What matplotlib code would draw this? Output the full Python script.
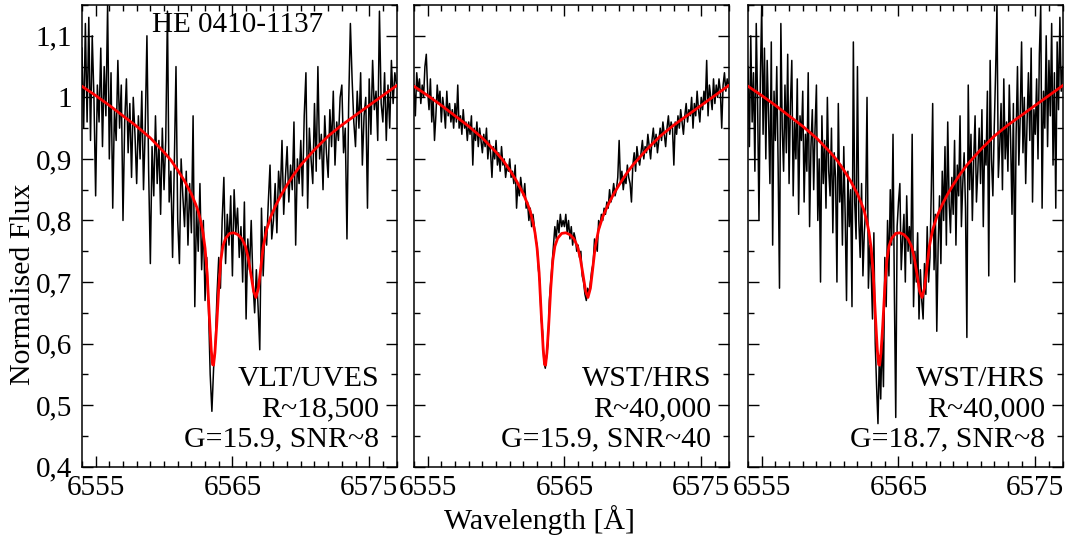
import numpy as np
import matplotlib
matplotlib.use("Agg")
import matplotlib.pyplot as plt
from matplotlib.ticker import FixedLocator, MultipleLocator, FuncFormatter

plt.rcParams['font.family'] = ['Liberation Serif', 'DejaVu Serif']
plt.rcParams['font.size'] = 21

# --- model profile (H-alpha, two components) ---
model_wl = [6554.0, 6555.0, 6556.0, 6557.0, 6558.0, 6559.0, 6560.0, 6560.5,
            6561.0, 6561.5, 6562.0, 6562.3, 6562.5, 6562.7, 6562.85, 6563.0,
            6563.15, 6563.3, 6563.45, 6563.55, 6563.62, 6563.72, 6563.85, 6564.0,
            6564.15, 6564.3, 6564.5, 6564.8, 6565.1, 6565.4, 6565.7, 6565.95,
            6566.15, 6566.35, 6566.55, 6566.72, 6566.9, 6567.05, 6567.25, 6567.5,
            6567.8, 6568.2, 6568.6, 6569.0, 6569.5, 6570.0, 6571.0, 6572.0,
            6573.0, 6574.0, 6575.0, 6576.0, 6577.0]
model_flux = [1.018, 1.003, 0.987, 0.970, 0.953, 0.934, 0.911, 0.898,
              0.882, 0.864, 0.843, 0.827, 0.815, 0.797, 0.780, 0.755,
              0.715, 0.650, 0.590, 0.566, 0.565, 0.585, 0.630, 0.690,
              0.735, 0.758, 0.771, 0.779, 0.780, 0.777, 0.770, 0.758,
              0.740, 0.713, 0.685, 0.675, 0.690, 0.718, 0.757, 0.785,
              0.806, 0.826, 0.843, 0.858, 0.875, 0.890, 0.915, 0.937,
              0.955, 0.971, 0.987, 1.003, 1.019]

# --- VLT/UVES spectrum, 0.125 A sampling from 6554 A ---
uves_flux = [
    1.08, 0.95, 1.12, 0.96, 1.13, 0.93, 1.10, 1.00,
    0.84, 1.02, 0.96, 1.08, 0.92, 1.05, 0.97, 1.15,
    0.90, 1.04, 0.82, 0.98, 0.93, 1.06, 0.95, 1.02,
    0.80, 0.96, 1.03, 0.91, 0.99, 0.87, 1.00, 0.94,
    0.86, 0.97, 0.90, 1.01, 0.85, 0.95, 1.10, 0.88,
    0.73, 0.92, 0.84, 0.97, 0.86, 0.93, 0.81, 0.95,
    0.85, 0.93, 1.14, 0.83, 0.88, 0.74, 0.89, 1.05,
    0.80, 0.73, 0.90, 0.84, 0.79, 0.88, 0.76, 0.86,
    0.78, 0.97, 0.66, 0.82, 0.75, 0.86, 0.72, 0.80,
    0.67, 0.74, 0.66, 0.55, 0.49, 0.56, 0.60, 0.68,
    0.74, 0.69, 0.80, 0.87, 0.73, 0.81, 0.76, 0.84,
    0.71, 0.85, 0.78, 0.82, 0.74, 0.79, 0.70, 0.83,
    0.64, 0.77, 0.72, 0.80, 0.70, 0.65, 0.72, 0.66,
    0.59, 0.82, 0.71, 0.79, 0.76, 0.83, 0.89, 0.77,
    0.80, 0.86, 0.78, 0.88, 0.84, 0.93, 0.81, 0.87,
    0.92, 0.83, 0.89, 0.85, 0.96, 0.76, 0.90, 0.86,
    0.93, 0.84, 0.97, 1.04, 0.82, 0.95, 0.90, 0.86,
    0.99, 0.88, 1.05, 0.90, 0.94, 0.85, 0.97, 0.91,
    0.87, 0.98, 0.92, 1.01, 0.89, 0.96, 0.93, 1.00,
    1.02, 0.91, 0.95, 0.77, 0.99, 1.12, 1.03, 0.96,
    0.92, 1.01, 0.95, 1.04, 0.89, 0.97, 1.00, 0.82,
    1.03, 0.94, 1.06, 0.98, 1.01, 0.93, 1.14, 0.99,
    0.96, 1.04, 0.93, 1.02, 0.95, 1.06, 0.99, 1.04,
    1.02]

# --- WST/HRS simulated, G=15.9 (SNR~40), 0.1 A sampling ---
hrs_bright_flux = [
    1.02, 0.97, 1.04, 1.01, 1.03, 0.99, 1.02, 1.00, 1.05, 1.07,
    1.01, 0.98, 1.03, 0.96, 1.00, 0.93, 0.97, 1.02, 0.99, 1.01,
    0.96, 1.00, 0.98, 0.95, 1.01, 0.97, 0.99, 0.96, 0.98, 0.95,
    0.99, 0.96, 1.02, 0.95, 0.97, 0.94, 0.98, 0.95, 0.96, 0.93,
    0.96, 0.94, 0.97, 0.89, 0.95, 0.93, 0.96, 0.92, 0.95, 0.93,
    0.91, 0.94, 0.92, 0.95, 0.90, 0.93, 0.91, 0.87, 0.92, 0.90,
    0.93, 0.89, 0.91, 0.88, 0.92, 0.89, 0.90, 0.87, 0.89, 0.88,
    0.90, 0.87, 0.88, 0.86, 0.89, 0.82, 0.86, 0.84, 0.87, 0.85,
    0.84, 0.86, 0.82, 0.83, 0.80, 0.82, 0.79, 0.81, 0.79, 0.77,
    0.76, 0.72, 0.70, 0.64, 0.62, 0.57, 0.56, 0.58, 0.60, 0.67,
    0.70, 0.73, 0.76, 0.79, 0.77, 0.80, 0.78, 0.81, 0.79, 0.80,
    0.79, 0.81, 0.78, 0.80, 0.77, 0.79, 0.76, 0.78, 0.77, 0.75,
    0.76, 0.74, 0.75, 0.71, 0.70, 0.68, 0.67, 0.69, 0.68, 0.70,
    0.72, 0.73, 0.77, 0.76, 0.75, 0.80, 0.79, 0.81, 0.80, 0.82,
    0.81, 0.83, 0.82, 0.85, 0.83, 0.84, 0.86, 0.84, 0.85, 0.87,
    0.93, 0.86, 0.88, 0.85, 0.87, 0.86, 0.89, 0.87, 0.86, 0.83,
    0.89, 0.91, 0.88, 0.92, 0.90, 0.89, 0.91, 0.93, 0.90, 0.92,
    0.91, 0.94, 0.92, 0.90, 0.93, 0.95, 0.92, 0.94, 0.91, 0.93,
    0.95, 0.93, 0.96, 0.94, 0.92, 0.95, 0.97, 0.94, 0.96, 0.95,
    0.89, 0.96, 0.94, 0.97, 0.95, 0.98, 0.96, 0.94, 0.97, 0.99,
    0.96, 0.98, 0.97, 1.00, 0.95, 0.99, 0.97, 1.01, 0.98, 0.96,
    1.00, 0.98, 1.01, 0.99, 1.06, 0.97, 1.02, 1.00, 0.98, 1.03,
    0.99, 1.02, 1.00, 1.03, 1.01, 0.95, 1.02, 1.04, 1.01, 1.03,
    1.02]

# --- WST/HRS simulated, G=18.7 (SNR~8), 0.1 A sampling ---
hrs_faint_flux = [
    1.05, 0.92, 1.10, 0.96, 1.04, 0.88, 1.12, 0.99, 0.80, 1.03,
    1.15, 0.94, 1.08, 0.90, 1.06, 0.97, 0.86, 1.09, 0.76, 1.01,
    0.93, 1.05, 0.89, 0.69, 1.12, 0.95, 0.88, 1.02, 0.91, 1.07,
    0.86, 0.99, 1.06, 0.84, 0.96, 0.90, 1.03, 0.81, 0.97, 0.93,
    1.01, 0.83, 0.94, 0.88, 1.04, 0.79, 0.92, 0.98, 0.85, 0.95,
    1.02, 0.80, 0.90, 0.70, 0.97, 0.86, 0.93, 0.82, 1.00, 0.88,
    0.84, 0.95, 0.78, 0.91, 0.87, 0.70, 0.99, 0.83, 0.89, 0.76,
    0.92, 0.81, 0.67, 0.88, 0.79, 0.85, 0.66, 1.09, 0.83, 0.77,
    1.05, 0.80, 0.74, 0.86, 0.71, 0.78, 0.82, 1.00, 0.69, 0.76,
    0.72, 0.64, 0.78, 0.60, 0.53, 0.47, 0.58, 0.51, 0.62, 0.53,
    0.74, 0.66, 0.80, 0.71, 0.85, 0.76, 0.94, 0.68, 0.48, 0.79,
    0.83, 0.86, 0.72, 0.77, 0.81, 0.70, 0.84, 0.75, 0.79, 0.73,
    0.94, 0.66, 0.75, 0.70, 0.78, 0.64, 0.72, 0.67, 0.64, 0.73,
    0.68, 0.79, 0.70, 0.74, 0.85, 0.99, 0.72, 0.81, 0.62, 0.76,
    0.84, 0.73, 0.88, 0.80, 0.92, 0.76, 0.96, 0.83, 0.78, 0.87,
    0.81, 0.93, 0.76, 0.89, 0.84, 0.97, 0.79, 0.86, 0.91, 0.82,
    0.61, 1.02, 0.85, 0.94, 0.80, 0.90, 0.97, 0.83, 0.88, 0.95,
    0.86, 0.98, 0.79, 0.93, 0.89, 1.01, 0.71, 1.06, 0.90, 0.84,
    0.95, 1.04, 1.15, 0.87, 0.92, 0.99, 0.85, 1.03, 0.90, 0.96,
    0.88, 1.02, 0.93, 0.81, 0.99, 0.70, 0.94, 1.05, 0.89, 0.97,
    1.09, 0.91, 1.00, 0.86, 0.96, 1.04, 0.93, 1.08, 0.83, 0.98,
    0.94, 1.03, 0.90, 1.07, 1.15, 0.82, 1.01, 0.95, 1.10, 0.92,
    1.06, 0.97, 1.12, 0.89, 1.04, 0.82, 1.09, 0.98, 1.13, 1.01,
    1.05]

wl_start, wl_end = 6554.0, 6577.0
uves_wl = np.linspace(wl_start, wl_end, len(uves_flux))
hrs_wl = np.linspace(wl_start, wl_end, len(hrs_bright_flux))

panels = [
    (uves_wl, uves_flux, ['VLT/UVES', 'R~18,500', 'G=15.9, SNR~8']),
    (hrs_wl, hrs_bright_flux, ['WST/HRS', 'R~40,000', 'G=15.9, SNR~40']),
    (hrs_wl, hrs_faint_flux, ['WST/HRS', 'R~40,000', 'G=18.7, SNR~8']),
]
lefts = [0.0766, 0.3869, 0.6991]

fig = plt.figure(figsize=(10.7, 5.46), dpi=100)

def comma_fmt(v, pos):
    return ('%g' % round(v, 2)).replace('.', ',')

for i, (wl, flux, labels) in enumerate(panels):
    ax = fig.add_axes([lefts[i], 0.1452, 0.2940, 0.8456])
    ax.plot(wl, flux, color='black', lw=1.1, zorder=2)
    ax.plot(model_wl, model_flux, color='red', lw=2.0, zorder=3)
    ax.set_xlim(wl_start, wl_end)
    ax.set_ylim(0.4, 1.15)

    ax.xaxis.set_major_locator(FixedLocator([6555, 6565, 6575]))
    ax.xaxis.set_minor_locator(MultipleLocator(1))
    ax.yaxis.set_major_locator(MultipleLocator(0.1))
    ax.yaxis.set_minor_locator(MultipleLocator(0.05))
    ax.yaxis.set_major_formatter(FuncFormatter(comma_fmt))
    ax.tick_params(which='both', direction='in', top=True, right=True, width=1.0)
    ax.tick_params(which='major', length=8)
    ax.tick_params(which='minor', length=4)
    ax.tick_params(axis='x', pad=6)
    ax.tick_params(axis='y', pad=7)
    if i > 0:
        ax.tick_params(labelleft=False)
    for sp in ax.spines.values():
        sp.set_linewidth(1.1)

    for text, yy in zip(labels, [0.175, 0.108, 0.043]):
        ax.text(0.945, yy, text, transform=ax.transAxes, ha='right',
                va='baseline', fontsize=21.5)

    if i == 0:
        ax.text(0.495, 0.941, 'HE 0410-1137', transform=ax.transAxes,
                ha='center', va='baseline')

fig.text(0.0215, 0.48, 'Normalised Flux', rotation=90, ha='center', va='center',
         fontsize=21.5)
fig.text(0.504, 0.032, 'Wavelength [Å]', ha='center', va='baseline', fontsize=21.5)

fig.savefig('out.png', dpi=100)
